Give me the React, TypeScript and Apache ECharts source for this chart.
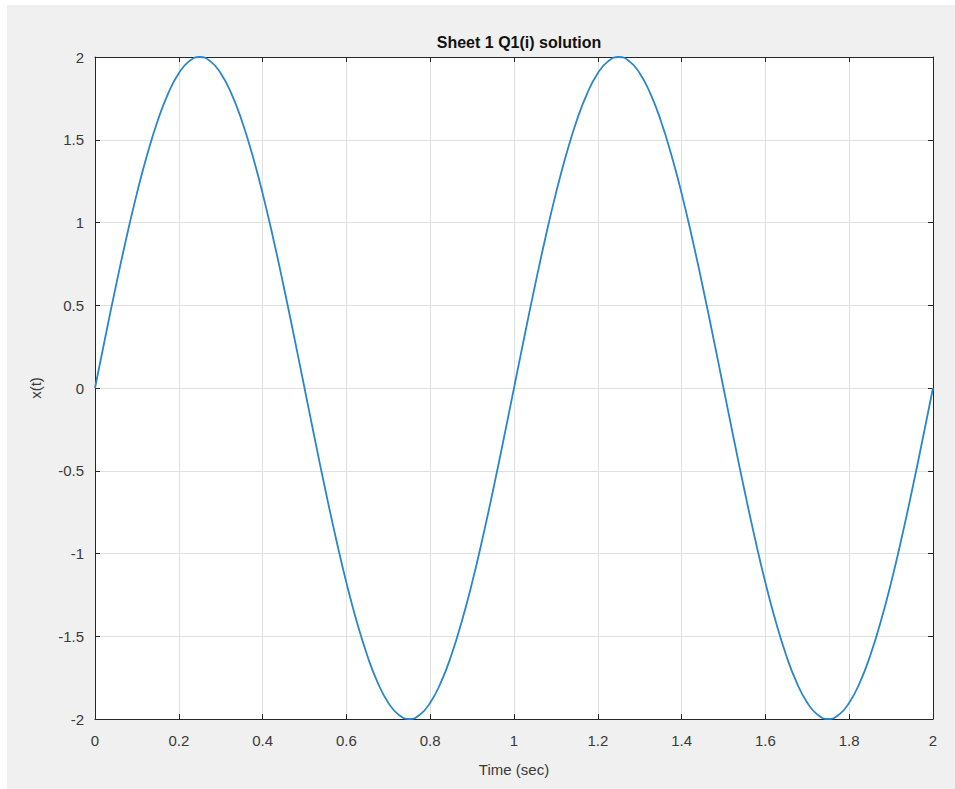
import React, { useEffect, useRef } from "react";
import * as echarts from "echarts";

const tValues = [
  0, 0.025, 0.05, 0.075, 0.1, 0.125, 0.15, 0.175, 0.2, 0.225, 0.25, 0.275, 0.3, 0.325, 0.35, 0.375, 0.4, 0.425, 0.45, 0.475,
  0.5, 0.525, 0.55, 0.575, 0.6, 0.625, 0.65, 0.675, 0.7, 0.725, 0.75, 0.775, 0.8, 0.825, 0.85, 0.875, 0.9, 0.925, 0.95, 0.975,
  1, 1.025, 1.05, 1.075, 1.1, 1.125, 1.15, 1.175, 1.2, 1.225, 1.25, 1.275, 1.3, 1.325, 1.35, 1.375, 1.4, 1.425, 1.45, 1.475,
  1.5, 1.525, 1.55, 1.575, 1.6, 1.625, 1.65, 1.675, 1.7, 1.725, 1.75, 1.775, 1.8, 1.825, 1.85, 1.875, 1.9, 1.925, 1.95, 1.975, 2,
];

const xValues = [
  0, 0.313, 0.618, 0.908, 1.176, 1.414, 1.618, 1.782, 1.902, 1.975, 2, 1.975, 1.902, 1.782, 1.618, 1.414, 1.176, 0.908, 0.618, 0.313,
  0, -0.313, -0.618, -0.908, -1.176, -1.414, -1.618, -1.782, -1.902, -1.975, -2, -1.975, -1.902, -1.782, -1.618, -1.414, -1.176, -0.908, -0.618, -0.313,
  0, 0.313, 0.618, 0.908, 1.176, 1.414, 1.618, 1.782, 1.902, 1.975, 2, 1.975, 1.902, 1.782, 1.618, 1.414, 1.176, 0.908, 0.618, 0.313,
  0, -0.313, -0.618, -0.908, -1.176, -1.414, -1.618, -1.782, -1.902, -1.975, -2, -1.975, -1.902, -1.782, -1.618, -1.414, -1.176, -0.908, -0.618, -0.313,
  0,
];

const titleText = "Sheet 1 Q1(i) solution";
const xLabel = "Time (sec)";
const yLabel = "x(t)";

export default function App() {
  const ref = useRef<HTMLDivElement>(null);
  useEffect(() => {
    if (!ref.current) return;
    const chart = echarts.init(ref.current, undefined, { renderer: "svg" });
    const font = "'Liberation Sans', Arial, Helvetica, sans-serif";
    const axisColor = "#262626";
    const labelColor = "#3a3a3a";
    const gridLine = { show: true, lineStyle: { color: "#e0e0e0", width: 1 } };
    const baseAxis = {
      type: "value" as const,
      axisLine: { show: true, onZero: false, lineStyle: { color: axisColor, width: 1 } },
      axisTick: { show: true, inside: true, length: 5, lineStyle: { color: axisColor } },
    };
    chart.setOption({
      animation: false,
      backgroundColor: "#ffffff",
      textStyle: { fontFamily: font },
      graphic: [
        {
          type: "rect",
          z: -10,
          shape: { x: 7, y: 5, width: 948, height: 784 },
          style: { fill: "#f0f0f0" },
          silent: true,
        },
        {
          type: "rect",
          z: -9,
          shape: { x: 95, y: 57, width: 838, height: 662 },
          style: { fill: "#ffffff" },
          silent: true,
        },
        {
          type: "text",
          x: 514,
          y: 769,
          style: { text: xLabel, fill: labelColor, font: `15px ${font}`, align: "center", verticalAlign: "middle" },
        },
        {
          type: "text",
          x: 35,
          y: 388,
          rotation: Math.PI / 2,
          style: { text: yLabel, fill: labelColor, font: `15px ${font}`, align: "center", verticalAlign: "middle" },
        },
      ],
      title: {
        text: titleText,
        left: 514,
        textAlign: "center",
        top: 29,
        textStyle: { fontFamily: font, fontSize: 16, fontWeight: "bold", color: "#111111" },
      },
      grid: { left: 95, right: 22, top: 57, bottom: 70, containLabel: false },
      xAxis: [
        {
          ...baseAxis,
          min: 0,
          max: 2,
          interval: 0.2,
          position: "bottom",
          splitLine: gridLine,
          axisLabel: { color: labelColor, fontSize: 15, margin: 14, fontFamily: font },
        },
        {
          ...baseAxis,
          min: 0,
          max: 2,
          interval: 0.2,
          position: "top",
          splitLine: { show: false },
          axisLabel: { show: false },
        },
      ],
      yAxis: [
        {
          ...baseAxis,
          min: -2,
          max: 2,
          interval: 0.5,
          position: "left",
          splitLine: gridLine,
          axisLabel: { color: labelColor, fontSize: 15, margin: 11, fontFamily: font },
        },
        {
          ...baseAxis,
          min: -2,
          max: 2,
          interval: 0.5,
          position: "right",
          splitLine: { show: false },
          axisLabel: { show: false },
        },
      ],
      series: [
        {
          type: "line",
          data: tValues.map((t, i) => [t, xValues[i]]),
          smooth: true,
          showSymbol: false,
          symbol: "none",
          clip: false,
          lineStyle: { color: "#2a86cc", width: 1.8 },
        },
      ],
    });
    return () => chart.dispose();
  }, []);
  return (
    <div
      ref={ref}
      style={{ position: "fixed", left: 0, top: 0, width: 955, height: 789 }}
    />
  );
}
